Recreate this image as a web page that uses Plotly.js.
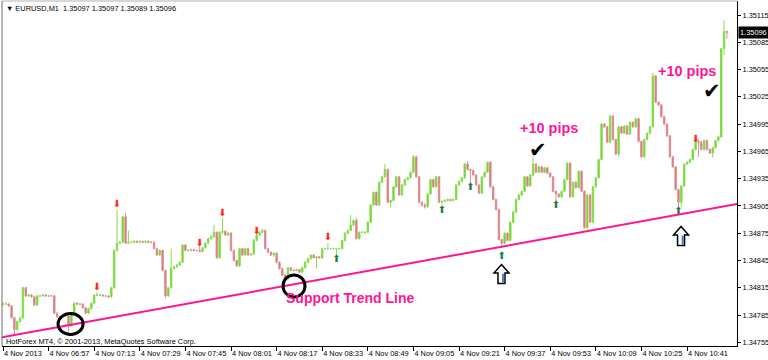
<!DOCTYPE html>
<html><head><meta charset="utf-8">
<script src="https://cdn.plot.ly/plotly-3.0.1.min.js"></script>
<style>html,body{margin:0;padding:0;background:#fff}#chart{width:768px;height:360px}</style>
</head><body><div id="chart"></div>
<script>
const symbolName = 'EURUSD,M1';
const copyright = 'HotForex MT4, \u00a9 2001-2013, MetaQuotes Software Corp.';
const startTime = Date.UTC(2013, 10, 4, 6, 41, 0); // first M1 bar 06:41

const openP = [
1.34797,1.34797,1.34797,1.34795,1.34782,1.34769,1.34778,1.34782,1.34815,1.34806,
1.34807,1.34805,1.34796,1.34806,1.34806,1.34807,1.34806,1.34806,1.34806,1.34787,
1.34783,1.34783,1.34784,1.34784,1.34773,1.34787,1.34798,1.34797,1.34797,1.34793,
1.34787,1.34792,1.34798,1.34807,1.34807,1.34807,1.34806,1.34806,1.34805,1.34815,
1.34856,1.34864,1.34865,1.34893,1.34864,1.34865,1.34865,1.34866,1.34865,1.34866,
1.34865,1.34866,1.34865,1.34865,1.34858,1.34851,1.34856,1.34834,1.34806,1.34815,
1.34836,1.34838,1.34840,1.34843,1.34862,1.34856,1.34856,1.34857,1.34856,1.34856,
1.34855,1.34859,1.34864,1.34869,1.34871,1.34876,1.34848,1.34876,1.34877,1.34873,
1.34875,1.34856,1.34845,1.34839,1.34858,1.34851,1.34858,1.34851,1.34852,1.34867,
1.34873,1.34876,1.34878,1.34858,1.34854,1.34851,1.34853,1.34843,1.34836,1.34829,
1.34825,1.34837,1.34834,1.34834,1.34835,1.34832,1.34837,1.34843,1.34847,1.34851,
1.34848,1.34849,1.34848,1.34858,1.34858,1.34858,1.34858,1.34858,1.34858,1.34858,
1.34867,1.34875,1.34878,1.34884,1.34889,1.34869,1.34876,1.34876,1.34876,1.34887,
1.34906,1.34920,1.34906,1.34931,1.34937,1.34945,1.34909,1.34911,1.34926,1.34937,
1.34917,1.34928,1.34934,1.34936,1.34942,1.34959,1.34937,1.34909,1.34906,1.34904,
1.34918,1.34934,1.34926,1.34937,1.34909,1.34910,1.34911,1.34912,1.34911,1.34912,
1.34928,1.34932,1.34936,1.34951,1.34945,1.34944,1.34939,1.34928,1.34919,1.34937,
1.34942,1.34953,1.34926,1.34912,1.34901,1.34868,1.34864,1.34875,1.34867,1.34887,
1.34898,1.34912,1.34917,1.34921,1.34937,1.34927,1.34939,1.34951,1.34942,1.34948,
1.34942,1.34947,1.34941,1.34937,1.34921,1.34918,1.34915,1.34921,1.34934,1.34952,
1.34915,1.34931,1.34925,1.34943,1.34921,1.34881,1.34917,1.34887,1.34926,1.34936,
1.34956,1.34995,1.34992,1.34975,1.35004,1.34978,1.34962,1.34992,1.34985,1.34993,
1.34984,1.34997,1.34992,1.35001,1.34976,1.34959,1.34978,1.34985,1.34992,1.35048,
1.35019,1.35016,1.35003,1.34995,1.34982,1.34959,1.34948,1.34923,1.34909,1.34927,
1.34951,1.34953,1.34956,1.34967,1.34976,1.34975,1.34967,1.34977,1.34967,1.34963,
1.34969,1.34977,1.34981,1.35078,1.35097];

const highP = [
1.34799,1.34799,1.34798,1.34796,1.34783,1.34779,1.34783,1.34816,1.34816,1.34808,
1.34808,1.34806,1.34807,1.34807,1.34808,1.34808,1.34807,1.34807,1.34807,1.34788,
1.34784,1.34785,1.34785,1.34785,1.34788,1.34799,1.34799,1.34798,1.34798,1.34794,
1.34793,1.34799,1.34808,1.34810,1.34808,1.34808,1.34807,1.34807,1.34816,1.34857,
1.34901,1.34866,1.34894,1.34897,1.34878,1.34866,1.34867,1.34867,1.34867,1.34867,
1.34867,1.34867,1.34866,1.34866,1.34859,1.34857,1.34857,1.34835,1.34816,1.34858,
1.34839,1.34841,1.34844,1.34863,1.34863,1.34857,1.34858,1.34858,1.34857,1.34861,
1.34860,1.34865,1.34870,1.34873,1.34884,1.34877,1.34877,1.34892,1.34878,1.34876,
1.34876,1.34857,1.34846,1.34859,1.34859,1.34859,1.34859,1.34853,1.34869,1.34875,
1.34877,1.34880,1.34879,1.34859,1.34855,1.34854,1.34854,1.34844,1.34837,1.34830,
1.34838,1.34838,1.34836,1.34836,1.34836,1.34838,1.34844,1.34848,1.34852,1.34852,
1.34850,1.34850,1.34859,1.34859,1.34864,1.34859,1.34859,1.34859,1.34859,1.34867,
1.34876,1.34879,1.34895,1.34890,1.34892,1.34877,1.34877,1.34877,1.34888,1.34907,
1.34921,1.34921,1.34932,1.34938,1.34951,1.34946,1.34912,1.34927,1.34938,1.34938,
1.34929,1.34935,1.34937,1.34943,1.34961,1.34960,1.34938,1.34910,1.34908,1.34919,
1.34935,1.34935,1.34938,1.34938,1.34911,1.34912,1.34913,1.34913,1.34913,1.34929,
1.34933,1.34937,1.34952,1.34954,1.34946,1.34945,1.34940,1.34929,1.34938,1.34943,
1.34954,1.34954,1.34927,1.34913,1.34902,1.34869,1.34876,1.34876,1.34888,1.34900,
1.34913,1.34918,1.34922,1.34938,1.34938,1.34940,1.34959,1.34952,1.34949,1.34949,
1.34948,1.34948,1.34942,1.34938,1.34922,1.34919,1.34922,1.34935,1.34953,1.34953,
1.34932,1.34932,1.34944,1.34944,1.34922,1.34918,1.34918,1.34927,1.34937,1.34957,
1.34996,1.34996,1.34993,1.35005,1.35005,1.34979,1.34993,1.34993,1.34994,1.34994,
1.34998,1.34998,1.35002,1.35002,1.34977,1.34979,1.34986,1.34993,1.35051,1.35049,
1.35020,1.35017,1.35004,1.34996,1.34983,1.34960,1.34949,1.34924,1.34928,1.34952,
1.34954,1.34957,1.34968,1.34977,1.34978,1.34977,1.34978,1.34978,1.34968,1.34970,
1.34978,1.34982,1.35079,1.35109,1.35097];

const lowP = [
1.34795,1.34796,1.34794,1.34781,1.34764,1.34767,1.34776,1.34780,1.34805,1.34805,
1.34804,1.34795,1.34795,1.34805,1.34805,1.34805,1.34805,1.34805,1.34786,1.34782,
1.34782,1.34782,1.34783,1.34767,1.34772,1.34786,1.34796,1.34796,1.34792,1.34786,
1.34786,1.34791,1.34797,1.34806,1.34806,1.34805,1.34805,1.34804,1.34804,1.34814,
1.34855,1.34863,1.34864,1.34863,1.34863,1.34864,1.34864,1.34864,1.34864,1.34864,
1.34864,1.34864,1.34864,1.34857,1.34850,1.34850,1.34833,1.34804,1.34805,1.34814,
1.34835,1.34837,1.34839,1.34842,1.34855,1.34855,1.34855,1.34855,1.34855,1.34854,
1.34854,1.34858,1.34863,1.34868,1.34870,1.34847,1.34847,1.34874,1.34872,1.34872,
1.34855,1.34844,1.34838,1.34838,1.34850,1.34850,1.34850,1.34850,1.34851,1.34866,
1.34872,1.34875,1.34857,1.34853,1.34850,1.34849,1.34842,1.34835,1.34828,1.34822,
1.34824,1.34833,1.34833,1.34833,1.34831,1.34831,1.34836,1.34842,1.34846,1.34847,
1.34836,1.34847,1.34847,1.34857,1.34857,1.34857,1.34857,1.34851,1.34857,1.34857,
1.34866,1.34874,1.34877,1.34883,1.34868,1.34868,1.34875,1.34874,1.34875,1.34886,
1.34905,1.34905,1.34905,1.34930,1.34936,1.34908,1.34904,1.34910,1.34925,1.34916,
1.34916,1.34927,1.34933,1.34935,1.34941,1.34936,1.34908,1.34904,1.34902,1.34903,
1.34917,1.34925,1.34925,1.34908,1.34906,1.34909,1.34910,1.34910,1.34910,1.34911,
1.34927,1.34931,1.34935,1.34944,1.34928,1.34938,1.34927,1.34918,1.34918,1.34936,
1.34941,1.34925,1.34911,1.34900,1.34867,1.34859,1.34863,1.34866,1.34866,1.34886,
1.34897,1.34911,1.34916,1.34920,1.34926,1.34926,1.34938,1.34941,1.34941,1.34941,
1.34941,1.34940,1.34936,1.34920,1.34910,1.34914,1.34914,1.34920,1.34933,1.34914,
1.34914,1.34924,1.34924,1.34920,1.34880,1.34879,1.34886,1.34886,1.34925,1.34935,
1.34955,1.34991,1.34974,1.34974,1.34977,1.34961,1.34959,1.34984,1.34984,1.34983,
1.34983,1.34991,1.34991,1.34975,1.34958,1.34958,1.34977,1.34984,1.34991,1.35018,
1.35015,1.35002,1.34994,1.34981,1.34958,1.34947,1.34922,1.34903,1.34904,1.34926,
1.34950,1.34952,1.34955,1.34966,1.34959,1.34966,1.34966,1.34966,1.34962,1.34958,
1.34968,1.34976,1.34980,1.35071,1.35089];

const closeP = [
1.34797,1.34797,1.34795,1.34782,1.34769,1.34778,1.34782,1.34815,1.34806,1.34807,
1.34805,1.34796,1.34806,1.34806,1.34807,1.34806,1.34806,1.34806,1.34787,1.34783,
1.34783,1.34784,1.34784,1.34773,1.34787,1.34798,1.34797,1.34797,1.34793,1.34787,
1.34792,1.34798,1.34807,1.34807,1.34807,1.34806,1.34806,1.34805,1.34815,1.34856,
1.34864,1.34865,1.34893,1.34864,1.34865,1.34865,1.34866,1.34865,1.34866,1.34865,
1.34866,1.34865,1.34865,1.34858,1.34851,1.34856,1.34834,1.34806,1.34815,1.34836,
1.34838,1.34840,1.34843,1.34862,1.34856,1.34856,1.34857,1.34856,1.34856,1.34855,
1.34859,1.34864,1.34869,1.34871,1.34876,1.34848,1.34876,1.34877,1.34873,1.34875,
1.34856,1.34845,1.34839,1.34858,1.34851,1.34858,1.34851,1.34852,1.34867,1.34873,
1.34876,1.34878,1.34858,1.34854,1.34851,1.34853,1.34843,1.34836,1.34829,1.34825,
1.34837,1.34834,1.34834,1.34835,1.34832,1.34837,1.34843,1.34847,1.34851,1.34848,
1.34849,1.34848,1.34858,1.34858,1.34858,1.34858,1.34858,1.34858,1.34858,1.34867,
1.34875,1.34878,1.34884,1.34889,1.34869,1.34876,1.34876,1.34876,1.34887,1.34906,
1.34920,1.34906,1.34931,1.34937,1.34945,1.34909,1.34911,1.34926,1.34937,1.34917,
1.34928,1.34934,1.34936,1.34942,1.34959,1.34937,1.34909,1.34906,1.34904,1.34918,
1.34934,1.34926,1.34937,1.34909,1.34910,1.34911,1.34912,1.34911,1.34912,1.34928,
1.34932,1.34936,1.34951,1.34945,1.34944,1.34939,1.34928,1.34919,1.34937,1.34942,
1.34953,1.34926,1.34912,1.34901,1.34868,1.34864,1.34875,1.34867,1.34887,1.34898,
1.34912,1.34917,1.34921,1.34937,1.34927,1.34939,1.34951,1.34942,1.34948,1.34942,
1.34947,1.34941,1.34937,1.34921,1.34918,1.34915,1.34921,1.34934,1.34952,1.34915,
1.34931,1.34925,1.34943,1.34921,1.34881,1.34917,1.34887,1.34926,1.34936,1.34956,
1.34995,1.34992,1.34975,1.35004,1.34978,1.34962,1.34992,1.34985,1.34993,1.34984,
1.34997,1.34992,1.35001,1.34976,1.34959,1.34978,1.34985,1.34992,1.35048,1.35019,
1.35016,1.35003,1.34995,1.34982,1.34959,1.34948,1.34923,1.34909,1.34927,1.34951,
1.34953,1.34956,1.34967,1.34976,1.34975,1.34967,1.34977,1.34967,1.34963,1.34969,
1.34977,1.34981,1.35078,1.35097,1.35096];

const tickTimes = ['2013-11-04 06:41','2013-11-04 06:57','2013-11-04 07:13','2013-11-04 07:29',
  '2013-11-04 07:45','2013-11-04 08:01','2013-11-04 08:17','2013-11-04 08:33','2013-11-04 08:49',
  '2013-11-04 09:05','2013-11-04 09:21','2013-11-04 09:37','2013-11-04 09:53','2013-11-04 10:09',
  '2013-11-04 10:25','2013-11-04 10:41'];
const tickLabels = ['4 Nov 2013','4 Nov 06:57','4 Nov 07:13','4 Nov 07:29','4 Nov 07:45','4 Nov 08:01',
  '4 Nov 08:17','4 Nov 08:33','4 Nov 08:49','4 Nov 09:05','4 Nov 09:21','4 Nov 09:37','4 Nov 09:53',
  '4 Nov 10:09','4 Nov 10:25','4 Nov 10:41'];
const priceTicks = [1.34755,1.34785,1.34815,1.34845,1.34875,1.34905,1.34935,1.34965,1.34995,1.35025,1.35055,1.35085,1.35115];

const sellTimes = ['2013-11-04 07:14','2013-11-04 07:21','2013-11-04 07:50','2013-11-04 07:58','2013-11-04 08:10','2013-11-04 08:35','2013-11-04 10:44'];
const sellPrices = [1.34815,1.34907,1.34864,1.34897,1.34877,1.34870,1.34978];
const buyTimes = ['2013-11-04 08:38','2013-11-04 09:15','2013-11-04 09:25','2013-11-04 09:36','2013-11-04 09:55','2013-11-04 10:38'];
const buyPrices = [1.34846,1.34900,1.34925,1.34849,1.34905,1.34899];

const trendStart = {t: -0.35, p: 1.347605};
const trendEnd = {t: 257.54, p: 1.349071};

function tm(m) { return new Date(startTime + m * 60000).toISOString().slice(0, 19).replace('T', ' '); }
const times = openP.map((_, i) => tm(i));
const n = closeP.length - 1;
const f5 = v => v.toFixed(5);

const PINK = '#ff1493';
const AX = {family: 'Liberation Sans, Arial, sans-serif', size: 7.4, color: '#000'};

const traces = [
  {type: 'candlestick', x: times, open: openP, high: highP, low: lowP, close: closeP,
   increasing: {fillcolor: '#66d414', line: {color: '#86dc50', width: 1}},
   decreasing: {fillcolor: '#d96a6d', line: {color: '#de8e90', width: 1}},
   whiskerwidth: 0, showlegend: false, hoverinfo: 'skip'},
  {type: 'scatter', mode: 'text', x: sellTimes, y: sellPrices, text: sellTimes.map(() => '\u2B07'),
   textfont: {color: '#ff2a1a', size: 10, family: 'DejaVu Sans'}, showlegend: false, hoverinfo: 'skip'},
  {type: 'scatter', mode: 'text', x: buyTimes, y: buyPrices, text: buyTimes.map(() => '\u2B06'),
   textfont: {color: '#17803a', size: 10, family: 'DejaVu Sans'}, showlegend: false, hoverinfo: 'skip'}
];

const hollowArrow = (t, p) => ([
  {type: 'path', xref: 'x', yref: 'y', xsizemode: 'pixel', ysizemode: 'pixel', xanchor: tm(t), yanchor: p,
   path: 'M0,9.5L7.5,1L3.5,1L3.5,-9.5L-3.5,-9.5L-3.5,1L-7.5,1Z', fillcolor: '#ffffff', line: {color: '#000', width: 1.5}},
  {type: 'path', xref: 'x', yref: 'y', xsizemode: 'pixel', ysizemode: 'pixel', xanchor: tm(t), yanchor: p,
   path: 'M0.6,0.5L2.7,0.5L2.7,-8.7L0.6,-8.7Z', fillcolor: '#4a7ccc', line: {width: 0}}
]);

const circle = (t, p, rx, ry) => ({type: 'circle', xref: 'x', yref: 'y', xsizemode: 'pixel', ysizemode: 'pixel',
  xanchor: tm(t), yanchor: p, x0: -rx, x1: rx, y0: -ry, y1: ry, line: {color: '#000', width: 3}});

const shapes = [
  {type: 'line', xref: 'x', yref: 'y', x0: tm(trendStart.t), y0: trendStart.p, x1: tm(trendEnd.t), y1: trendEnd.p,
   line: {color: PINK, width: 2}},
  circle(23.7, 1.347751, 12.5, 10.5),
  circle(102.1, 1.348170, 11, 11),
  ...hollowArrow(174.9, 1.348300),
  ...hollowArrow(237.9, 1.348719),
  {type: 'line', xref: 'paper', yref: 'paper', x0: 0, x1: 0, y0: 0, y1: 1, line: {color: '#6d6d6d', width: 1}},
  {type: 'line', xref: 'paper', yref: 'paper', x0: 0, x1: 1, y0: 1, y1: 1, line: {color: '#b0b0b0', width: 1}}
];

const annotations = [
  {xref: 'paper', yref: 'paper', x: 0, y: 1, xanchor: 'left', yanchor: 'top', xshift: 2, yshift: -1, showarrow: false,
   text: '\u25BC ' + symbolName + '\u00a0\u00a0' + [openP[n], highP[n], lowP[n], closeP[n]].map(f5).join(' '), font: AX},
  {xref: 'paper', yref: 'paper', x: 0, y: 0, xanchor: 'left', yanchor: 'bottom', xshift: 2, yshift: -2, showarrow: false,
   text: copyright, font: AX},
  {xref: 'paper', yref: 'y', x: 1, y: closeP[n], xanchor: 'left', yanchor: 'middle', xshift: 1, showarrow: false,
   text: f5(closeP[n]), bgcolor: '#000', borderpad: 1, font: {family: AX.family, size: 7.4, color: '#fff'}},
  {xref: 'x', yref: 'y', x: tm(121.75), y: 1.34804, showarrow: false, text: '<b>Support Trend Line</b>',
   font: {family: 'Liberation Sans, Arial, sans-serif', size: 14, color: PINK}},
  {xref: 'x', yref: 'y', x: tm(191.4), y: 1.34991, showarrow: false, text: '<b>+10 pips</b>',
   font: {family: 'Liberation Sans, Arial, sans-serif', size: 14.5, color: PINK}},
  {xref: 'x', yref: 'y', x: tm(240), y: 1.35053, showarrow: false, text: '<b>+10 pips</b>',
   font: {family: 'Liberation Sans, Arial, sans-serif', size: 14.5, color: PINK}},
  {xref: 'x', yref: 'y', x: tm(187.7), y: 1.34967, showarrow: false, text: '\u2714',
   font: {family: 'DejaVu Sans', size: 21, color: '#000'}},
  {xref: 'x', yref: 'y', x: tm(248.8), y: 1.35031, showarrow: false, text: '\u2714',
   font: {family: 'DejaVu Sans', size: 21, color: '#000'}}
];

const layout = {
  width: 768, height: 360,
  margin: {l: 2, r: 31, t: 1, b: 14, pad: 0},
  paper_bgcolor: '#fff', plot_bgcolor: '#fff',
  showlegend: false,
  font: AX,
  xaxis: {type: 'date', range: [tm(trendStart.t), tm(trendEnd.t)], showgrid: false, zeroline: false,
    showline: true, linecolor: '#000', linewidth: 1, ticks: 'outside', ticklen: 4, tickcolor: '#000',
    tickvals: tickTimes, ticktext: tickLabels, tickangle: 0, ticklabelposition: 'outside right',
    ticklabeloverflow: 'allow', tickfont: AX, automargin: false,
    rangeslider: {visible: false}, fixedrange: true},
  yaxis: {side: 'right', range: [1.347509, 1.351304], showgrid: false, zeroline: false,
    showline: true, linecolor: '#000', linewidth: 1, ticks: 'outside', ticklen: 3, tickcolor: '#000',
    tickvals: priceTicks, ticktext: priceTicks.map(f5), tickfont: AX, automargin: false, fixedrange: true},
  shapes: shapes,
  annotations: annotations
};

Plotly.newPlot('chart', traces, layout, {displayModeBar: false, staticPlot: true});
</script>
</body></html>
